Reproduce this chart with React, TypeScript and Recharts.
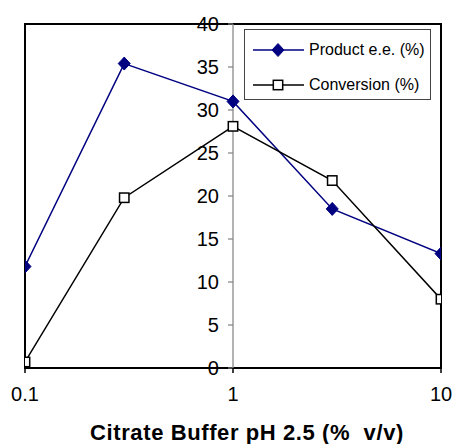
import { LineChart, Line, XAxis, YAxis, ReferenceLine, ReferenceArea, Legend } from 'recharts'

const bufferPct = [0.1, 0.3, 1, 3, 10]
const productEE = [11.8, 35.4, 31.0, 18.5, 13.3]
const conversion = [0.7, 19.8, 28.1, 21.8, 8.0]
const xTicks = [0.1, 1, 10]
const yTicks = [0, 5, 10, 15, 20, 25, 30, 35, 40]
const seriesOrder = ['ee', 'conv']

const data = bufferPct.map((x, i) => ({ x, ee: productEE[i], conv: conversion[i] }))

const NAVY = '#000080'
const FONT = 'Arial, "Liberation Sans", sans-serif'

function Diamond({ cx, cy }: any) {
  if (cx == null || cy == null) return null
  const rx = 6
  const ry = 6.5
  return (
    <path
      d={`M${cx},${cy - ry}L${cx + rx},${cy}L${cx},${cy + ry}L${cx - rx},${cy}Z`}
      fill={NAVY}
      stroke={NAVY}
    />
  )
}

function Square({ cx, cy }: any) {
  if (cx == null || cy == null) return null
  const s = 4.7
  return <rect x={cx - s} y={cy - s} width={s * 2} height={s * 2} fill="#fff" stroke="#000" strokeWidth={1.5} />
}

function LegendBox({ payload }: any) {
  const items = [...(payload || [])].sort(
    (a: any, b: any) => seriesOrder.indexOf(a.dataKey) - seriesOrder.indexOf(b.dataKey)
  )
  return (
    <div
      style={{
        border: '1px solid #444',
        background: '#fff',
        height: 71,
        boxSizing: 'border-box',
        paddingTop: 2,
        fontFamily: FONT,
        fontSize: 16,
        color: '#000',
      }}
    >
      {items.map((item: any) => {
        const isEE = item.dataKey === 'ee'
        const color = isEE ? NAVY : '#000'
        return (
          <div key={item.dataKey} style={{ display: 'flex', alignItems: 'center', height: 35 }}>
            <svg width={64} height={16} style={{ flex: 'none' }}>
              <line x1={8} y1={8} x2={59} y2={8} stroke={color} strokeWidth={1.5} />
              {isEE ? <Diamond cx={33} cy={8} /> : <Square cx={33} cy={8} />}
            </svg>
            <span>{item.value}</span>
          </div>
        )
      })}
    </div>
  )
}

export default function App() {
  return (
    <div style={{ position: 'absolute', left: 0, top: 0, width: 454, height: 444, background: '#fff', fontFamily: FONT }}>
      <LineChart width={454} height={444} data={data} margin={{ top: 24, right: 13, left: 25, bottom: 0 }}>
        <XAxis
          dataKey="x"
          type="number"
          scale="log"
          domain={[0.1, 10]}
          ticks={xTicks}
          allowDataOverflow
          height={76}
          axisLine={false}
          tickLine={{ stroke: '#000', strokeWidth: 1.5 }}
          tickSize={5}
          tickMargin={14}
          tick={{ fill: '#000', fontSize: 20, fontFamily: FONT }}
          tickFormatter={(v: number) => String(v)}
          label={{
            value: 'Citrate Buffer pH 2.5 (%\u00a0 v/v)',
            position: 'insideBottom',
            offset: 4,
            dx: 14,
            style: { fill: '#000', fontSize: 22, fontWeight: 'bold', fontFamily: FONT, letterSpacing: 0.6 },
          }}
        />
        <YAxis hide width={0} domain={[0, 40]} ticks={yTicks} allowDataOverflow />
        <ReferenceArea x1={0.1} x2={10} y1={0} y2={40} fill="none" stroke="#000" strokeWidth={2} />
        <ReferenceLine x={1} stroke="#808080" strokeWidth={1.2} />
        {yTicks.map((v) => (
          <ReferenceLine
            key={v}
            segment={[{ x: 0.946, y: v }, { x: 1, y: v }]}
            stroke="#808080"
            strokeWidth={1.2}
            label={{ value: v, position: 'left', offset: 9, fill: '#000', fontSize: 20, fontFamily: FONT }}
          />
        ))}
        <Legend
          content={<LegendBox />}
          layout="horizontal"
          align="center"
          verticalAlign="middle"
          wrapperStyle={{ left: 244, top: 29, width: 187 }}
        />
        <Line
          type="linear"
          dataKey="ee"
          name="Product e.e. (%)"
          stroke={NAVY}
          strokeWidth={1.5}
          dot={<Diamond />}
          activeDot={false}
          isAnimationActive={false}
        />
        <Line
          type="linear"
          dataKey="conv"
          name="Conversion (%)"
          stroke="#000"
          strokeWidth={1.5}
          dot={<Square />}
          activeDot={false}
          isAnimationActive={false}
        />
      </LineChart>
    </div>
  )
}
